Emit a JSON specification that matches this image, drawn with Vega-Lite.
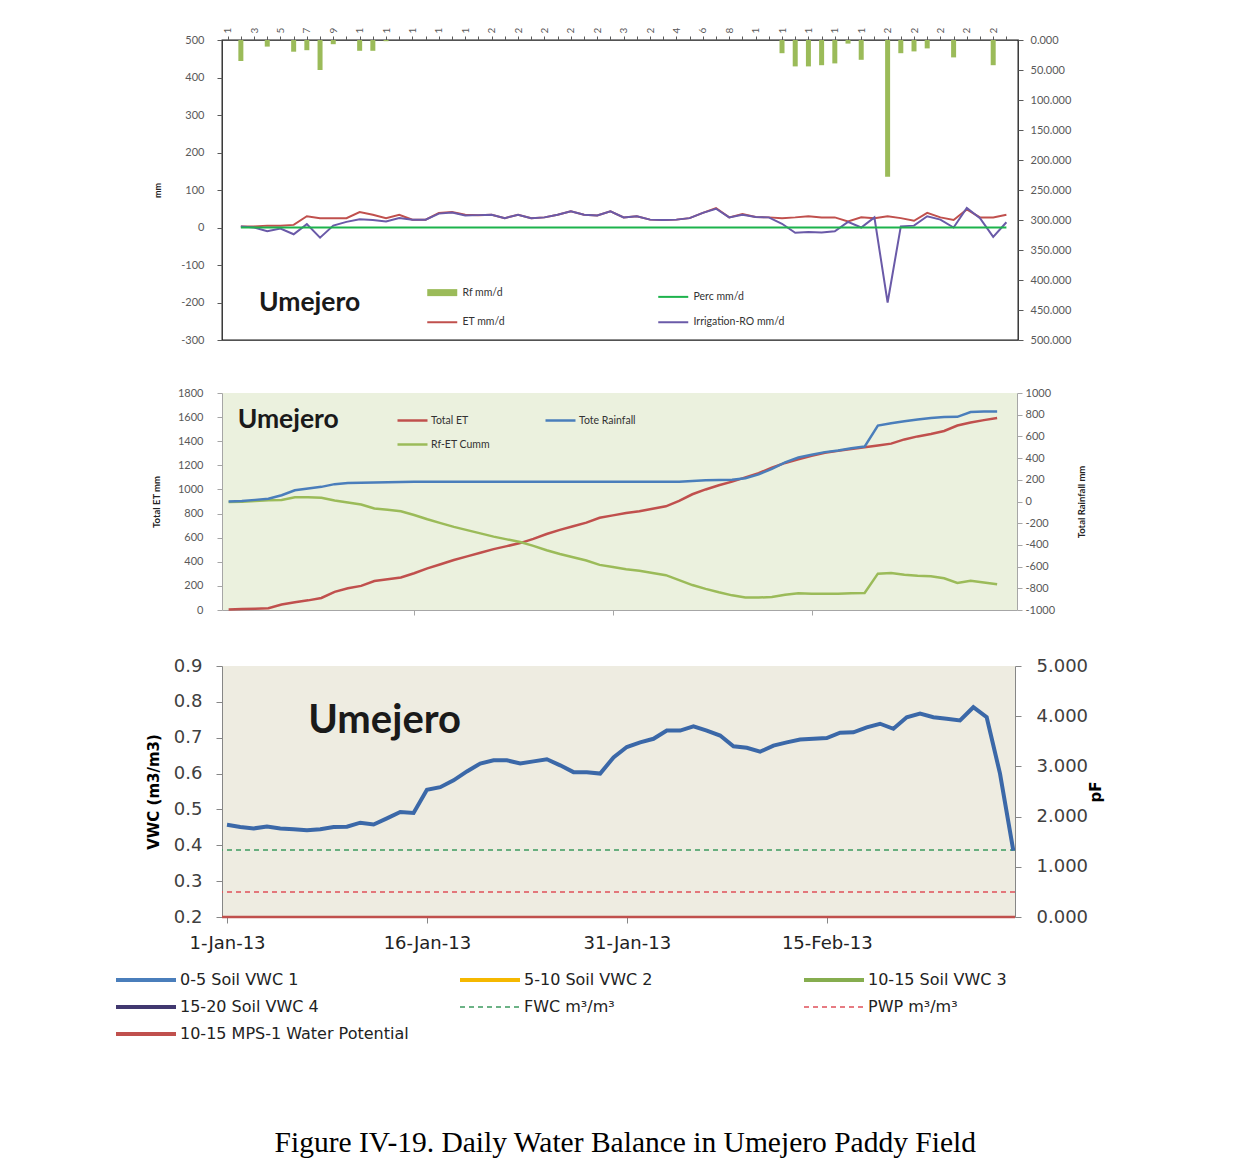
{
  "$schema": "https://vega.github.io/schema/vega-lite/v6.json",
  "background": "white",
  "padding": {"left": 115, "top": 26, "right": 20, "bottom": 10},
  "title": {
    "text": "Figure IV-19. Daily Water Balance in Umejero Paddy Field",
    "orient": "bottom",
    "anchor": "middle",
    "offset": 87,
    "dx": 16,
    "font": "Liberation Serif",
    "fontSize": 29.5,
    "fontWeight": "normal",
    "color": "#000000"
  },
  "spacing": 41,
  "resolve": {"scale": {"x": "independent", "y": "independent", "color": "independent"}},
  "vconcat": [
    {
      "width": 796,
      "height": 300,
      "view": {"stroke": "#1a1a1a", "strokeWidth": 1.3},
      "data": {"values": [
        {"d": "2013-01-02", "et": 3, "irr": 3, "perc": 0, "rf": 35},
        {"d": "2013-01-03", "et": 3, "irr": 0, "perc": 0, "rf": 0},
        {"d": "2013-01-04", "et": 5, "irr": -10, "perc": 0, "rf": 11},
        {"d": "2013-01-05", "et": 5, "irr": -3, "perc": 0, "rf": 0},
        {"d": "2013-01-06", "et": 7, "irr": -18, "perc": 0, "rf": 19.5},
        {"d": "2013-01-07", "et": 30, "irr": 9, "perc": 0, "rf": 17},
        {"d": "2013-01-08", "et": 25, "irr": -27, "perc": 0, "rf": 50},
        {"d": "2013-01-09", "et": 25, "irr": 5, "perc": 0, "rf": 7},
        {"d": "2013-01-10", "et": 25, "irr": 15, "perc": 0, "rf": 0},
        {"d": "2013-01-11", "et": 41, "irr": 22, "perc": 0, "rf": 18},
        {"d": "2013-01-12", "et": 34, "irr": 20, "perc": 0, "rf": 18},
        {"d": "2013-01-13", "et": 25, "irr": 16, "perc": 0, "rf": 2},
        {"d": "2013-01-14", "et": 34, "irr": 25, "perc": 0, "rf": 0},
        {"d": "2013-01-15", "et": 21, "irr": 21, "perc": 0, "rf": 0},
        {"d": "2013-01-16", "et": 21, "irr": 21, "perc": 0, "rf": 0},
        {"d": "2013-01-17", "et": 39, "irr": 37, "perc": 0, "rf": 0},
        {"d": "2013-01-18", "et": 41, "irr": 40, "perc": 0, "rf": 0},
        {"d": "2013-01-19", "et": 34, "irr": 32, "perc": 0, "rf": 0},
        {"d": "2013-01-20", "et": 33, "irr": 33, "perc": 0, "rf": 0},
        {"d": "2013-01-21", "et": 34, "irr": 34, "perc": 0, "rf": 0},
        {"d": "2013-01-22", "et": 25, "irr": 25, "perc": 0, "rf": 0},
        {"d": "2013-01-23", "et": 34, "irr": 34, "perc": 0, "rf": 0},
        {"d": "2013-01-24", "et": 25, "irr": 25, "perc": 0, "rf": 0},
        {"d": "2013-01-25", "et": 27, "irr": 27, "perc": 0, "rf": 0},
        {"d": "2013-01-26", "et": 34, "irr": 34, "perc": 0, "rf": 0},
        {"d": "2013-01-27", "et": 43, "irr": 43, "perc": 0, "rf": 0},
        {"d": "2013-01-28", "et": 34, "irr": 34, "perc": 0, "rf": 0},
        {"d": "2013-01-29", "et": 32, "irr": 32, "perc": 0, "rf": 0},
        {"d": "2013-01-30", "et": 43, "irr": 43, "perc": 0, "rf": 0},
        {"d": "2013-01-31", "et": 27, "irr": 27, "perc": 0, "rf": 0},
        {"d": "2013-02-01", "et": 30, "irr": 30, "perc": 0, "rf": 0},
        {"d": "2013-02-02", "et": 21, "irr": 21, "perc": 0, "rf": 0},
        {"d": "2013-02-03", "et": 20, "irr": 20, "perc": 0, "rf": 0},
        {"d": "2013-02-04", "et": 21, "irr": 21, "perc": 0, "rf": 0},
        {"d": "2013-02-05", "et": 25, "irr": 25, "perc": 0, "rf": 0},
        {"d": "2013-02-06", "et": 39, "irr": 39, "perc": 0, "rf": 0},
        {"d": "2013-02-07", "et": 52, "irr": 50, "perc": 0, "rf": 0},
        {"d": "2013-02-08", "et": 27, "irr": 27, "perc": 0, "rf": 0},
        {"d": "2013-02-09", "et": 36, "irr": 34, "perc": 0, "rf": 0},
        {"d": "2013-02-10", "et": 28, "irr": 28, "perc": 0, "rf": 0},
        {"d": "2013-02-11", "et": 27, "irr": 27, "perc": 0, "rf": 0},
        {"d": "2013-02-12", "et": 25, "irr": 10, "perc": 0, "rf": 22},
        {"d": "2013-02-13", "et": 27, "irr": -14, "perc": 0, "rf": 44},
        {"d": "2013-02-14", "et": 30, "irr": -12, "perc": 0, "rf": 44},
        {"d": "2013-02-15", "et": 27, "irr": -13, "perc": 0, "rf": 42},
        {"d": "2013-02-16", "et": 27, "irr": -10, "perc": 0, "rf": 39},
        {"d": "2013-02-17", "et": 16, "irr": 15, "perc": 0, "rf": 6},
        {"d": "2013-02-18", "et": 27, "irr": 0, "perc": 0, "rf": 33},
        {"d": "2013-02-19", "et": 25, "irr": 27, "perc": 0, "rf": 0},
        {"d": "2013-02-20", "et": 30, "irr": -200, "perc": 0, "rf": 228},
        {"d": "2013-02-21", "et": 25, "irr": 3, "perc": 0, "rf": 22},
        {"d": "2013-02-22", "et": 18, "irr": 5, "perc": 0, "rf": 19},
        {"d": "2013-02-23", "et": 39, "irr": 30, "perc": 0, "rf": 14},
        {"d": "2013-02-24", "et": 27, "irr": 21, "perc": 0, "rf": 0},
        {"d": "2013-02-25", "et": 20, "irr": 0, "perc": 0, "rf": 29},
        {"d": "2013-02-26", "et": 48, "irr": 52, "perc": 0, "rf": 0},
        {"d": "2013-02-27", "et": 27, "irr": 25, "perc": 0, "rf": 0},
        {"d": "2013-02-28", "et": 27, "irr": -25, "perc": 0, "rf": 42},
        {"d": "2013-03-01", "et": 34, "irr": 14, "perc": 0, "rf": 0}
      ]},
      "encoding": {
        "x": {
          "field": "d",
          "type": "temporal",
          "scale": {"type": "utc", "domain": [
            {"year": 2012, "month": 12, "date": 31, "hours": 22, "minutes": 48, "utc": true},
            {"year": 2013, "month": 3, "date": 1, "hours": 12, "utc": true}
          ]},
          "axis": {
            "orient": "top",
            "title": null,
            "tickCount": {"interval": "day", "step": 1},
            "labelExpr": "floor(datum.value / 864e5) % 2 === 0 ? slice(utcFormat(datum.value, '%-d'), 0, 1) : ''",
            "labelAngle": 270,
            "labelFontSize": 10,
            "labelColor": "#595959",
            "labelBound": false,
            "labelFlush": false,
            "labelPadding": 3,
            "tickSize": 4,
            "tickColor": "#595959",
            "domain": false
          }
        }
      },
      "layer": [
        {
          "layer": [
            {
              "mark": {"type": "line", "strokeWidth": 2},
              "encoding": {
                "y": {
                  "field": "et",
                  "type": "quantitative",
                  "scale": {"domain": [-300, 500], "nice": false},
                  "axis": {
                    "orient": "left",
                    "values": [-300, -200, -100, 0, 100, 200, 300, 400, 500],
                    "tickCount": 20,
                    "labelExpr": "datum.value < 0 ? '-' + abs(datum.value) : '' + datum.value",
                    "title": "mm",
                    "titleFontSize": 9,
                    "titleFontWeight": "bold",
                    "titleColor": "#222222",
                    "titlePadding": 18,
                    "labelFontSize": 11,
                    "labelColor": "#595959",
                    "labelPadding": 13,
                    "tickSize": 5,
                    "tickColor": "#595959",
                    "domain": false
                  }
                },
                "color": {
                  "datum": "ET mm/d",
                  "scale": {
                    "domain": ["Rf mm/d", "Perc mm/d", "ET mm/d", "Irrigation-RO mm/d"],
                    "range": ["#9bbb59", "#1db34c", "#c0504d", "#6a5aa8"]
                  },
                  "legend": {
                    "title": null,
                    "values": ["Rf mm/d", "Perc mm/d", "ET mm/d", "Irrigation-RO mm/d"],
                    "orient": "none",
                    "direction": "horizontal",
                    "legendX": 206,
                    "legendY": 247,
                    "columns": 2,
                    "gridAlign": "all",
                    "columnPadding": 100,
                    "rowPadding": 10,
                    "symbolType": "stroke",
                    "symbolSize": 900,
                    "symbolStrokeWidth": 7,
                    "symbolOffset": 9,
                    "labelFontSize": 10.5,
                    "labelColor": "#333333",
                    "labelOffset": 15,
                    "encode": {"symbols": {"update": {"strokeWidth": {"signal": "datum.value === 'Rf mm/d' ? 7 : 2"}}}}
                  }
                }
              }
            },
            {
              "mark": {"type": "line", "strokeWidth": 2},
              "encoding": {
                "y": {"field": "irr", "type": "quantitative"},
                "color": {"datum": "Irrigation-RO mm/d"}
              }
            },
            {
              "mark": {"type": "line", "strokeWidth": 2},
              "encoding": {
                "y": {"field": "perc", "type": "quantitative"},
                "color": {"datum": "Perc mm/d"}
              }
            },
            {
              "data": {"values": [{"d": "2013-01-07T05:00:00Z", "v": -202, "label": "Umejero"}]},
              "mark": {"type": "text", "font": "Lato", "fontSize": 26.5, "fontWeight": "bold", "color": "#1a1a1a", "align": "center", "baseline": "middle"},
              "encoding": {
                "y": {"field": "v", "type": "quantitative"},
                "text": {"field": "label"}
              }
            }
          ]
        },
        {
          "mark": {"type": "bar", "width": 5},
          "encoding": {
            "y": {
              "field": "rf",
              "type": "quantitative",
              "scale": {"domain": [0, 500], "reverse": true, "nice": false},
              "axis": {
                "orient": "right",
                "values": [0, 50, 100, 150, 200, 250, 300, 350, 400, 450, 500],
                "tickCount": 20,
                "format": ".3f",
                "title": null,
                "labelFontSize": 11,
                "labelColor": "#595959",
                "labelPadding": 7,
                "tickSize": 5,
                "tickColor": "#595959",
                "domain": false
              }
            },
            "color": {"datum": "Rf mm/d"}
          }
        }
      ],
      "resolve": {"scale": {"y": "independent"}}
    },
    {
      "width": 795,
      "height": 217,
      "view": {"fill": "#ebf1de", "stroke": null},
      "data": {"values": [
        {"d": "2013-01-02", "et": 5, "rain": 0, "cum": -5},
        {"d": "2013-01-03", "et": 8, "rain": 5, "cum": -3},
        {"d": "2013-01-04", "et": 10, "rain": 15, "cum": 5},
        {"d": "2013-01-05", "et": 14, "rain": 25, "cum": 11},
        {"d": "2013-01-06", "et": 45, "rain": 58, "cum": 13},
        {"d": "2013-01-07", "et": 65, "rain": 104, "cum": 39},
        {"d": "2013-01-08", "et": 80, "rain": 120, "cum": 40},
        {"d": "2013-01-09", "et": 100, "rain": 135, "cum": 35},
        {"d": "2013-01-10", "et": 150, "rain": 160, "cum": 10},
        {"d": "2013-01-11", "et": 180, "rain": 170, "cum": -10},
        {"d": "2013-01-12", "et": 200, "rain": 172, "cum": -28},
        {"d": "2013-01-13", "et": 240, "rain": 176, "cum": -64},
        {"d": "2013-01-14", "et": 255, "rain": 178, "cum": -77},
        {"d": "2013-01-15", "et": 270, "rain": 180, "cum": -90},
        {"d": "2013-01-16", "et": 305, "rain": 181, "cum": -124},
        {"d": "2013-01-17", "et": 345, "rain": 181, "cum": -164},
        {"d": "2013-01-18", "et": 380, "rain": 181, "cum": -199},
        {"d": "2013-01-19", "et": 415, "rain": 181, "cum": -234},
        {"d": "2013-01-20", "et": 445, "rain": 181, "cum": -264},
        {"d": "2013-01-21", "et": 475, "rain": 181, "cum": -294},
        {"d": "2013-01-22", "et": 505, "rain": 181, "cum": -324},
        {"d": "2013-01-23", "et": 530, "rain": 181, "cum": -349},
        {"d": "2013-01-24", "et": 555, "rain": 181, "cum": -374},
        {"d": "2013-01-25", "et": 590, "rain": 181, "cum": -409},
        {"d": "2013-01-26", "et": 630, "rain": 181, "cum": -449},
        {"d": "2013-01-27", "et": 665, "rain": 181, "cum": -484},
        {"d": "2013-01-28", "et": 695, "rain": 181, "cum": -514},
        {"d": "2013-01-29", "et": 725, "rain": 181, "cum": -544},
        {"d": "2013-01-30", "et": 765, "rain": 181, "cum": -584},
        {"d": "2013-01-31", "et": 785, "rain": 181, "cum": -604},
        {"d": "2013-02-01", "et": 805, "rain": 181, "cum": -624},
        {"d": "2013-02-02", "et": 820, "rain": 181, "cum": -639},
        {"d": "2013-02-03", "et": 840, "rain": 181, "cum": -659},
        {"d": "2013-02-04", "et": 860, "rain": 181, "cum": -679},
        {"d": "2013-02-05", "et": 905, "rain": 181, "cum": -724},
        {"d": "2013-02-06", "et": 960, "rain": 190, "cum": -770},
        {"d": "2013-02-07", "et": 1000, "rain": 195, "cum": -805},
        {"d": "2013-02-08", "et": 1035, "rain": 198, "cum": -837},
        {"d": "2013-02-09", "et": 1065, "rain": 200, "cum": -865},
        {"d": "2013-02-10", "et": 1100, "rain": 215, "cum": -885},
        {"d": "2013-02-11", "et": 1135, "rain": 250, "cum": -885},
        {"d": "2013-02-12", "et": 1180, "rain": 300, "cum": -880},
        {"d": "2013-02-13", "et": 1220, "rain": 360, "cum": -860},
        {"d": "2013-02-14", "et": 1250, "rain": 405, "cum": -845},
        {"d": "2013-02-15", "et": 1280, "rain": 430, "cum": -850},
        {"d": "2013-02-16", "et": 1305, "rain": 455, "cum": -850},
        {"d": "2013-02-17", "et": 1320, "rain": 470, "cum": -850},
        {"d": "2013-02-18", "et": 1335, "rain": 490, "cum": -845},
        {"d": "2013-02-19", "et": 1350, "rain": 506, "cum": -844},
        {"d": "2013-02-20", "et": 1365, "rain": 700, "cum": -665},
        {"d": "2013-02-21", "et": 1380, "rain": 722, "cum": -658},
        {"d": "2013-02-22", "et": 1415, "rain": 740, "cum": -675},
        {"d": "2013-02-23", "et": 1440, "rain": 755, "cum": -685},
        {"d": "2013-02-24", "et": 1460, "rain": 770, "cum": -690},
        {"d": "2013-02-25", "et": 1485, "rain": 778, "cum": -707},
        {"d": "2013-02-26", "et": 1530, "rain": 780, "cum": -750},
        {"d": "2013-02-27", "et": 1555, "rain": 825, "cum": -730},
        {"d": "2013-02-28", "et": 1575, "rain": 829, "cum": -746},
        {"d": "2013-03-01", "et": 1592, "rain": 829, "cum": -763}
      ]},
      "encoding": {
        "x": {
          "field": "d",
          "type": "temporal",
          "scale": {"type": "utc", "domain": [
            {"year": 2013, "month": 1, "date": 1, "hours": 12, "utc": true},
            {"year": 2013, "month": 3, "date": 2, "hours": 12, "utc": true}
          ]},
          "axis": {
            "orient": "bottom",
            "title": null,
            "labels": false,
            "values": [
              {"year": 2013, "month": 1, "date": 16, "utc": true},
              {"year": 2013, "month": 1, "date": 31, "utc": true},
              {"year": 2013, "month": 2, "date": 15, "utc": true}
            ],
            "tickCount": 20,
            "tickSize": 5,
            "tickColor": "#a6a6a6",
            "domainColor": "#a6a6a6"
          }
        }
      },
      "layer": [
        {
          "layer": [
            {
              "mark": {"type": "line", "strokeWidth": 2.5},
              "encoding": {
                "y": {
                  "field": "et",
                  "type": "quantitative",
                  "scale": {"domain": [0, 1800], "nice": false},
                  "axis": {
                    "orient": "left",
                    "values": [0, 200, 400, 600, 800, 1000, 1200, 1400, 1600, 1800],
                    "tickCount": 20,
                    "labelExpr": "'' + datum.value",
                    "title": "Total ET mm",
                    "titleFontSize": 9.5,
                    "titleFontWeight": "bold",
                    "titleColor": "#222222",
                    "titlePadding": 16,
                    "labelFontSize": 11,
                    "labelColor": "#595959",
                    "labelPadding": 14,
                    "tickSize": 5,
                    "tickColor": "#a6a6a6",
                    "domainColor": "#a6a6a6"
                  }
                },
                "color": {
                  "datum": "Total ET",
                  "scale": {
                    "domain": ["Total ET", "Tote Rainfall", "Rf-ET Cumm"],
                    "range": ["#c0504d", "#4a7ebb", "#9bbb59"]
                  },
                  "legend": {
                    "title": null,
                    "values": ["Total ET", "Tote Rainfall", "Rf-ET Cumm"],
                    "orient": "none",
                    "direction": "horizontal",
                    "legendX": 174,
                    "legendY": 11,
                    "columns": 2,
                    "columnPadding": 50,
                    "rowPadding": 2,
                    "symbolType": "stroke",
                    "symbolSize": 900,
                    "symbolStrokeWidth": 2.5,
                    "labelFontSize": 10.5,
                    "labelColor": "#333333",
                    "labelOffset": 2
                  }
                }
              }
            },
            {
              "data": {"values": [{"d": "2013-01-06T12:00:00Z", "v": 1580, "label": "Umejero"}]},
              "mark": {"type": "text", "font": "Lato", "fontSize": 26.5, "fontWeight": "bold", "color": "#1a1a1a", "align": "center", "baseline": "middle"},
              "encoding": {
                "y": {"field": "v", "type": "quantitative"},
                "text": {"field": "label"}
              }
            }
          ]
        },
        {
          "layer": [
            {
              "mark": {"type": "line", "strokeWidth": 2.5},
              "encoding": {
                "y": {
                  "field": "cum",
                  "type": "quantitative",
                  "scale": {"domain": [-1000, 1000], "nice": false},
                  "axis": {
                    "orient": "right",
                    "values": [-1000, -800, -600, -400, -200, 0, 200, 400, 600, 800, 1000],
                    "tickCount": 20,
                    "labelExpr": "datum.value < 0 ? '-' + abs(datum.value) : '' + datum.value",
                    "title": "Total Rainfall mm",
                    "titleAngle": 270,
                    "titleFontSize": 9.5,
                    "titleFontWeight": "bold",
                    "titleColor": "#222222",
                    "titlePadding": 32,
                    "labelFontSize": 11,
                    "labelColor": "#595959",
                    "labelPadding": 3,
                    "tickSize": 5,
                    "tickColor": "#a6a6a6",
                    "domainColor": "#a6a6a6"
                  }
                },
                "color": {"datum": "Rf-ET Cumm"}
              }
            },
            {
              "mark": {"type": "line", "strokeWidth": 2.5},
              "encoding": {
                "y": {"field": "rain", "type": "quantitative"},
                "color": {"datum": "Tote Rainfall"}
              }
            }
          ]
        }
      ],
      "resolve": {"scale": {"y": "independent"}}
    },
    {
      "width": 793,
      "height": 251,
      "view": {"fill": "#eeece1", "stroke": null},
      "layer": [
        {
          "layer": [
            {
              "data": {"values": [
                {"s": "FWC m³/m³", "v": 0.387},
                {"s": "PWP m³/m³", "v": 0.27}
              ]},
              "mark": {"type": "rule", "strokeWidth": 1.5, "strokeDash": [5, 4]},
              "encoding": {
                "y": {
                  "field": "v",
                  "type": "quantitative",
                  "scale": {"domain": [0.2, 0.9], "nice": false},
                  "axis": {
                    "orient": "left",
                    "values": [0.2, 0.3, 0.4, 0.5, 0.6, 0.7, 0.8, 0.9],
                    "tickCount": 20,
                    "format": ".1f",
                    "title": "VWC (m3/m3)",
                    "titleFont": "DejaVu Sans",
                    "titleFontSize": 15,
                    "titleFontWeight": "bold",
                    "titleColor": "#000000",
                    "titlePadding": 12,
                    "labelFont": "DejaVu Sans",
                    "labelFontSize": 18,
                    "labelColor": "#404040",
                    "labelPadding": 14,
                    "tickSize": 6,
                    "tickColor": "#868686",
                    "domainColor": "#868686"
                  }
                },
                "color": {
                  "field": "s",
                  "type": "nominal",
                  "scale": {
                    "domain": ["0-5 Soil VWC 1", "5-10 Soil VWC 2", "10-15 Soil VWC 3", "15-20 Soil VWC  4", "FWC m³/m³", "PWP m³/m³", "10-15 MPS-1 Water Potential"],
                    "range": ["#4a7ebb", "#f5b800", "#86ad4f", "#41386f", "#3c9a5f", "#e0505a", "#c0504d"]
                  },
                  "legend": {
                    "title": null,
                    "values": ["0-5 Soil VWC 1", "5-10 Soil VWC 2", "10-15 Soil VWC 3", "15-20 Soil VWC  4", "FWC m³/m³", "PWP m³/m³", "10-15 MPS-1 Water Potential"],
                    "orient": "none",
                    "direction": "horizontal",
                    "legendX": -107,
                    "legendY": 306,
                    "columns": 3,
                    "gridAlign": "all",
                    "columnPadding": 43,
                    "rowPadding": 11,
                    "symbolType": "stroke",
                    "symbolSize": 3600,
                    "symbolStrokeWidth": 4,
                    "symbolOffset": 23,
                    "labelFont": "DejaVu Sans",
                    "labelFontSize": 16,
                    "labelColor": "#222222",
                    "labelOffset": 26,
                    "labelLimit": 400,
                    "encode": {"symbols": {"update": {
                      "strokeWidth": {"signal": "datum.value === 'FWC m³/m³' || datum.value === 'PWP m³/m³' ? 1.5 : 4"},
                      "strokeDash": {"signal": "datum.value === 'FWC m³/m³' || datum.value === 'PWP m³/m³' ? [5, 4] : [1, 0]"}
                    }}}
                  }
                }
              }
            },
            {
              "data": {"values": [
                {"d": "2013-01-01", "vwc": 0.457}, {"d": "2013-01-02", "vwc": 0.451},
                {"d": "2013-01-03", "vwc": 0.447}, {"d": "2013-01-04", "vwc": 0.452},
                {"d": "2013-01-05", "vwc": 0.447}, {"d": "2013-01-06", "vwc": 0.445},
                {"d": "2013-01-07", "vwc": 0.442}, {"d": "2013-01-08", "vwc": 0.445},
                {"d": "2013-01-09", "vwc": 0.451}, {"d": "2013-01-10", "vwc": 0.452},
                {"d": "2013-01-11", "vwc": 0.463}, {"d": "2013-01-12", "vwc": 0.458},
                {"d": "2013-01-13", "vwc": 0.475}, {"d": "2013-01-14", "vwc": 0.493},
                {"d": "2013-01-15", "vwc": 0.49}, {"d": "2013-01-16", "vwc": 0.555},
                {"d": "2013-01-17", "vwc": 0.562}, {"d": "2013-01-18", "vwc": 0.581},
                {"d": "2013-01-19", "vwc": 0.606}, {"d": "2013-01-20", "vwc": 0.628},
                {"d": "2013-01-21", "vwc": 0.637}, {"d": "2013-01-22", "vwc": 0.637},
                {"d": "2013-01-23", "vwc": 0.628}, {"d": "2013-01-24", "vwc": 0.634},
                {"d": "2013-01-25", "vwc": 0.64}, {"d": "2013-01-26", "vwc": 0.623},
                {"d": "2013-01-27", "vwc": 0.604}, {"d": "2013-01-28", "vwc": 0.604},
                {"d": "2013-01-29", "vwc": 0.6}, {"d": "2013-01-30", "vwc": 0.645},
                {"d": "2013-01-31", "vwc": 0.674}, {"d": "2013-02-01", "vwc": 0.687},
                {"d": "2013-02-02", "vwc": 0.697}, {"d": "2013-02-03", "vwc": 0.72},
                {"d": "2013-02-04", "vwc": 0.72}, {"d": "2013-02-05", "vwc": 0.732},
                {"d": "2013-02-06", "vwc": 0.72}, {"d": "2013-02-07", "vwc": 0.706},
                {"d": "2013-02-08", "vwc": 0.676}, {"d": "2013-02-09", "vwc": 0.672},
                {"d": "2013-02-10", "vwc": 0.661}, {"d": "2013-02-11", "vwc": 0.678},
                {"d": "2013-02-12", "vwc": 0.687}, {"d": "2013-02-13", "vwc": 0.695},
                {"d": "2013-02-14", "vwc": 0.697}, {"d": "2013-02-15", "vwc": 0.699},
                {"d": "2013-02-16", "vwc": 0.714}, {"d": "2013-02-17", "vwc": 0.715},
                {"d": "2013-02-18", "vwc": 0.729}, {"d": "2013-02-19", "vwc": 0.739},
                {"d": "2013-02-20", "vwc": 0.725}, {"d": "2013-02-21", "vwc": 0.757},
                {"d": "2013-02-22", "vwc": 0.767}, {"d": "2013-02-23", "vwc": 0.757},
                {"d": "2013-02-24", "vwc": 0.753}, {"d": "2013-02-25", "vwc": 0.748},
                {"d": "2013-02-26", "vwc": 0.785}, {"d": "2013-02-27", "vwc": 0.757},
                {"d": "2013-02-28", "vwc": 0.6}, {"d": "2013-03-01", "vwc": 0.385}
              ]},
              "mark": {"type": "line", "strokeWidth": 4, "stroke": "#3b68a8"},
              "encoding": {
                "x": {
                  "field": "d",
                  "type": "temporal",
                  "scale": {"type": "utc", "domain": [
                    {"year": 2012, "month": 12, "date": 31, "hours": 15, "utc": true},
                    {"year": 2013, "month": 3, "date": 1, "hours": 3, "utc": true}
                  ]},
                  "axis": {
                    "orient": "bottom",
                    "title": null,
                    "values": [
                      {"year": 2013, "month": 1, "date": 1, "utc": true},
                      {"year": 2013, "month": 1, "date": 16, "utc": true},
                      {"year": 2013, "month": 1, "date": 31, "utc": true},
                      {"year": 2013, "month": 2, "date": 15, "utc": true}
                    ],
                    "tickCount": 20,
                    "format": "%-d-%b-%y",
                    "labelFont": "DejaVu Sans",
                    "labelFontSize": 18,
                    "labelColor": "#222222",
                    "labelFlush": false,
                    "labelPadding": 11,
                    "tickSize": 6,
                    "tickColor": "#868686",
                    "domainColor": "#868686"
                  }
                },
                "y": {"field": "vwc", "type": "quantitative"},
                "color": {"datum": "0-5 Soil VWC 1"}
              }
            },
            {
              "data": {"values": [{"d": "2013-01-12T20:00:00Z", "v": 0.747, "label": "Umejero"}]},
              "mark": {"type": "text", "font": "Lato", "fontSize": 40, "fontWeight": "bold", "color": "#1a1a1a", "align": "center", "baseline": "middle"},
              "encoding": {
                "x": {"field": "d", "type": "temporal"},
                "y": {"field": "v", "type": "quantitative"},
                "text": {"field": "label"}
              }
            }
          ]
        },
        {
          "data": {"values": [{"s": "10-15 MPS-1 Water Potential", "pf": 0}]},
          "mark": {"type": "rule", "strokeWidth": 2.5},
          "encoding": {
            "y": {
              "field": "pf",
              "type": "quantitative",
              "scale": {"domain": [0, 5], "nice": false},
              "axis": {
                "orient": "right",
                "values": [0, 1, 2, 3, 4, 5],
                "tickCount": 20,
                "format": ".3f",
                "title": "pF",
                "titleAngle": 270,
                "titleFont": "DejaVu Sans",
                "titleFontSize": 15,
                "titleFontWeight": "bold",
                "titleColor": "#000000",
                "titlePadding": 16,
                "labelFont": "DejaVu Sans",
                "labelFontSize": 18,
                "labelColor": "#404040",
                "labelPadding": 15,
                "tickSize": 6,
                "tickColor": "#868686",
                "domainColor": "#868686"
              }
            },
            "color": {"field": "s", "type": "nominal"}
          }
        }
      ],
      "resolve": {"scale": {"y": "independent"}}
    }
  ],
  "config": {
    "font": "Lato",
    "axis": {"grid": false, "labelFont": "Lato", "titleFont": "Lato", "labelOverlap": false},
    "legend": {"labelFont": "Lato"}
  }
}
